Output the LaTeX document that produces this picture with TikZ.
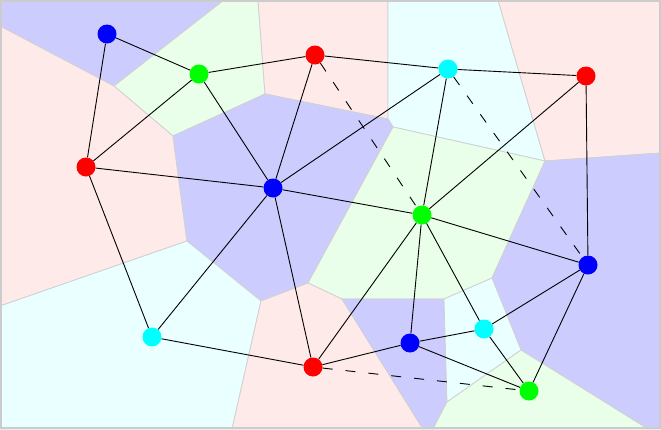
\documentclass[tikz,border=0pt]{standalone}
\begin{document}
\begin{tikzpicture}[x=1pt,y=-1pt,
  cellline/.style={draw=black!18, line width=0.8pt},
  cblue/.style={cellline, fill=cellblue},
  cred/.style={cellline, fill=cellred},
  cgreen/.style={cellline, fill=cellgreen},
  ccyan/.style={cellline, fill=cellcyan},
  site/.style={circle, inner sep=0pt, minimum size=19pt},
  sblue/.style={site, fill=siteblue},
  sred/.style={site, fill=sitered},
  sgreen/.style={site, fill=sitegreen},
  scyan/.style={site, fill=sitecyan},
  edge/.style={draw=black, line width=0.9pt},
  dedge/.style={edge, dash pattern=on 10pt off 13pt}]
\definecolor{cellblue}{RGB}{204,204,255}
\definecolor{cellred}{RGB}{255,234,234}
\definecolor{cellgreen}{RGB}{234,255,234}
\definecolor{cellcyan}{RGB}{234,255,255}
\definecolor{siteblue}{RGB}{0,0,255}
\definecolor{sitered}{RGB}{255,0,0}
\definecolor{sitegreen}{RGB}{0,255,0}
\definecolor{sitecyan}{RGB}{0,255,255}
\useasboundingbox (0,0) rectangle (661,429);
% Voronoi cells
\path[cblue] (0,0) -- (224,0) -- (114,86) -- (0,26) -- cycle;
\path[cgreen] (224,0) -- (258,0) -- (265,94) -- (173,136) -- (114,86) -- cycle;
\path[cred] (258,0) -- (388,0) -- (388,119) -- (265,94) -- cycle;
\path[ccyan] (388,0) -- (498,0) -- (545,161) -- (393,127) -- (388,119) -- cycle;
\path[cred] (498,0) -- (661,0) -- (661,153) -- (545,161) -- cycle;
\path[cred] (0,26) -- (114,86) -- (173,136) -- (187,241) -- (0,306) -- cycle;
\path[cblue] (265,94) -- (388,119) -- (393,127) -- (308,283) -- (261,301) -- (187,241) -- (173,136) -- cycle;
\path[cgreen] (393,127) -- (545,161) -- (492,278) -- (444,299) -- (342,299) -- (308,283) -- cycle;
\path[cblue] (545,161) -- (661,153) -- (661,429) -- (648,429) -- (521,350) -- (492,278) -- cycle;
\path[ccyan] (0,306) -- (187,241) -- (261,301) -- (232,429) -- (0,429) -- cycle;
\path[cred] (261,301) -- (308,283) -- (342,299) -- (423,429) -- (232,429) -- cycle;
\path[cblue] (342,299) -- (444,299) -- (447,402) -- (433,429) -- (423,429) -- cycle;
\path[ccyan] (444,299) -- (492,278) -- (521,350) -- (447,402) -- cycle;
\path[cgreen] (447,402) -- (521,350) -- (648,429) -- (433,429) -- cycle;
% frame
\draw[draw=black!20, line width=2pt] (1,1) rectangle (660,428);
% sites
\node[sblue] (b1) at (107,34) {};
\node[sgreen] (g1) at (199,74) {};
\node[sred] (r1) at (315,55) {};
\node[scyan] (c1) at (448,69) {};
\node[sred] (r2) at (586,76) {};
\node[sred] (r3) at (86,167) {};
\node[sblue] (b2) at (273,188) {};
\node[sgreen] (g2) at (422,215) {};
\node[sblue] (b3) at (588,265) {};
\node[scyan] (c2) at (152,337) {};
\node[sred] (r4) at (313,367) {};
\node[sblue] (b4) at (410,343) {};
\node[scyan] (c3) at (484,329) {};
\node[sgreen] (g3) at (529,391) {};
% edges
\path[edge] (b1) -- (g1) (b1) -- (r3) (g1) -- (r1) (g1) -- (r3) (g1) -- (b2)
  (r1) -- (b2) (r1) -- (c1) (c1) -- (r2) (r3) -- (b2) (r3) -- (c2)
  (c2) -- (b2) (c2) -- (r4) (b2) -- (r4) (b2) -- (g2) (b2) -- (c1)
  (c1) -- (g2) (r2) -- (g2) (r2) -- (b3) (g2) -- (b3) (g2) -- (r4)
  (g2) -- (b4) (g2) -- (c3) (b4) -- (r4) (b4) -- (c3) (b4) -- (g3)
  (c3) -- (g3) (c3) -- (b3) (b3) -- (g3);
\path[dedge] (r1) -- (g2) (c1) -- (b3) (r4) -- (g3);
\end{tikzpicture}
\end{document}
